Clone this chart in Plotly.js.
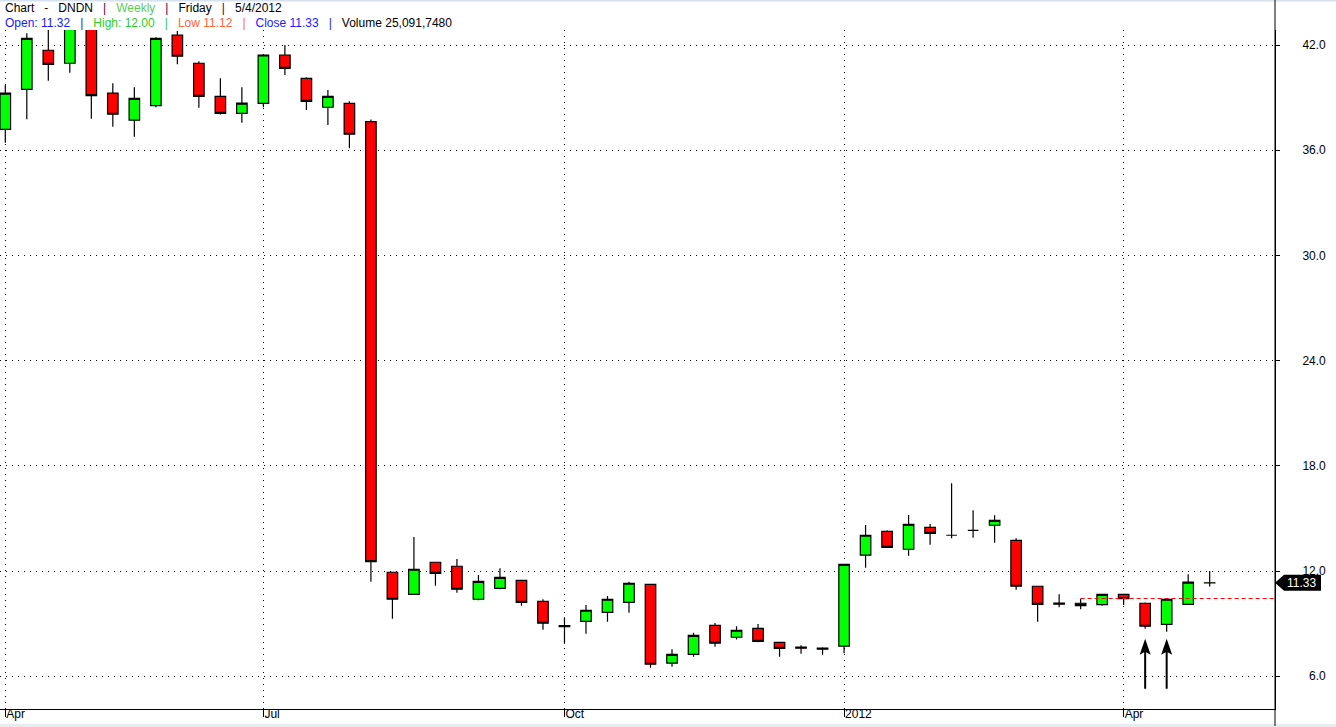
<!DOCTYPE html>
<html>
<head>
<meta charset="utf-8">
<script src="https://cdn.plot.ly/plotly-3.0.1.min.js"></script>
<style>
  html, body { margin: 0; padding: 0; background: #fff; }
  #chart { width: 1336px; height: 727px; }
</style>
</head>
<body>
<div id="chart"></div>
<script>
// weekly bars (Friday dates)
const weeks = [
  '2011-04-08', '2011-04-15', '2011-04-22', '2011-04-29',
  '2011-05-06', '2011-05-13', '2011-05-20', '2011-05-27',
  '2011-06-03', '2011-06-10', '2011-06-17', '2011-06-24',
  '2011-07-01', '2011-07-08', '2011-07-15', '2011-07-22', '2011-07-29',
  '2011-08-05', '2011-08-12', '2011-08-19', '2011-08-26',
  '2011-09-02', '2011-09-09', '2011-09-16', '2011-09-23', '2011-09-30',
  '2011-10-07', '2011-10-14', '2011-10-21', '2011-10-28',
  '2011-11-04', '2011-11-11', '2011-11-18', '2011-11-25',
  '2011-12-02', '2011-12-09', '2011-12-16', '2011-12-23', '2011-12-30',
  '2012-01-06', '2012-01-13', '2012-01-20', '2012-01-27',
  '2012-02-03', '2012-02-10', '2012-02-17', '2012-02-24',
  '2012-03-02', '2012-03-09', '2012-03-16', '2012-03-23', '2012-03-30',
  '2012-04-06', '2012-04-13', '2012-04-20', '2012-04-27',
  '2012-05-04'
]
const open = [
  37.19, 39.47, 41.70, 40.96, 43.80, 39.25, 37.71, 38.54, 42.57, 40.96,
  39.07, 38.10, 38.67, 41.43, 40.10, 38.45, 38.67, 37.63, 11.93, 10.67,
  12.50, 12.27, 10.39, 11.01, 11.47, 10.27, 8.89, 9.13, 9.64, 10.21,
  11.24, 6.74, 7.25, 8.90, 8.22, 8.73, 7.93, 7.66, 7.60, 7.71,
  12.90, 14.26, 13.24, 14.49, 14.04, 14.32, 14.61, 13.75, 11.13, 10.17,
  10.16, 10.08, 10.67, 10.16, 8.96, 10.10, 11.32
]
const high = [
  39.72, 42.67, 43.30, 44.00, 44.20, 39.82, 39.59, 42.44, 42.80, 41.07,
  40.10, 39.59, 41.49, 42.00, 40.16, 39.43, 38.79, 37.75, 11.96, 13.94,
  12.52, 12.68, 11.77, 12.15, 11.49, 10.39, 9.36, 10.06, 10.57, 11.39,
  11.26, 7.53, 8.48, 9.03, 8.85, 8.98, 7.95, 7.76, 7.65, 12.40,
  14.62, 14.32, 15.19, 14.68, 17.00, 15.46, 15.18, 13.87, 11.13, 10.67,
  10.42, 10.67, 10.67, 10.21, 10.39, 11.81, 12.00
]
const low = [
  36.43, 37.76, 39.96, 40.42, 37.80, 37.34, 36.77, 38.45, 40.90, 38.42,
  38.03, 37.57, 38.45, 40.29, 38.29, 37.44, 36.11, 11.39, 9.28, 10.65,
  11.16, 10.76, 10.33, 10.96, 10.02, 8.65, 7.85, 8.42, 9.11, 9.62,
  6.48, 6.54, 7.11, 7.68, 8.10, 7.93, 7.11, 7.28, 7.23, 7.31,
  12.19, 13.35, 12.87, 13.50, 13.87, 13.90, 13.61, 10.93, 9.11, 9.93,
  9.82, 10.02, 10.06, 8.71, 8.54, 10.10, 11.12
]
const close = [
  39.25, 42.38, 40.90, 43.60, 39.11, 38.05, 38.96, 42.38, 41.36, 39.07,
  38.10, 38.69, 41.43, 40.67, 38.79, 39.07, 36.91, 12.53, 10.39, 12.10,
  11.87, 10.96, 11.41, 11.64, 10.21, 9.02, 8.83, 9.76, 10.39, 11.30,
  6.68, 7.25, 8.33, 7.88, 8.62, 7.99, 7.59, 7.60, 7.54, 12.38,
  14.04, 13.35, 14.66, 14.15, 14.04, 14.32, 14.89, 11.13, 10.10, 10.11,
  10.02, 10.67, 10.42, 8.85, 10.39, 11.36, 11.33
]

const monthTicks = ['2011-04-08', '2011-07-01', '2011-10-07', '2012-01-06', '2012-04-06']
const monthLabels = ['Apr', 'Jul', 'Oct', '2012', 'Apr']
const priceTicks = [6, 12, 18, 24, 30, 36, 42]
const priceLabels = ['\u20076.0', '12.0', '18.0', '24.0', '30.0', '36.0', '42.0']

const lastPrice = 11.33
const levelStart = '2012-03-23'
const levelValue = 10.43
const arrowWeeks = ['2012-04-13', '2012-04-20']
const arrowTip = 8.14

const fontFam = 'Liberation Sans, Arial, sans-serif'
const nb = n => '\u00a0'.repeat(n)
const col = (c, t) => `<span style="color:${c}">${t}</span>`
const sep = c => nb(3) + col(c, '|') + nb(3)

const purple = '#4b004b'
const headerLine1 = col('#000', 'Chart' + nb(3) + '-' + nb(3) + 'DNDN') + sep(purple) +
  col('#5ccc5c', 'Weekly') + sep(purple) + col('#000', 'Friday') + sep(purple) + col('#000', '5/4/2012')
const headerLine2 = col('#1a1aff', 'Open: 11.32') + sep('#1a1aff') +
  col('#2ccc2c', 'High: 12.00') + sep('#2ccc2c') +
  col('#ff6633', 'Low 11.12') + sep('#ff6633') +
  col('#1a1aff', 'Close 11.33') + sep('#1a1aff') +
  col('#000', 'Volume 25,091,7480')

// paper y for a pixel row (plot spans rows 30..709)
const py = p => (709 - p) / 679

const candles = {
  type: 'candlestick',
  x: weeks, open: open, high: high, low: low, close: close,
  increasing: { line: { color: '#000', width: 1.2 }, fillcolor: '#00ff00' },
  decreasing: { line: { color: '#000', width: 1.2 }, fillcolor: '#ff0000' },
  whiskerwidth: 0,
  hoverinfo: 'skip'
}

const level = {
  type: 'scatter', mode: 'lines',
  x: [levelStart, '2012-07-01'], y: [levelValue, levelValue],
  line: { color: '#ff0000', width: 1, dash: '4px,3px' },
  hoverinfo: 'skip'
}

const arrowShapes = arrowWeeks.map(w => ({
  type: 'path',
  xref: 'x', xsizemode: 'pixel', xanchor: w,
  yref: 'y', ysizemode: 'pixel', yanchor: arrowTip,
  path: 'M0,0 L5.5,-16 L1,-13.5 L1,-50 L-1,-50 L-1,-13.5 L-5.5,-16 Z',
  fillcolor: '#000', line: { width: 0 }
}))

const layout = {
  width: 1336, height: 727,
  margin: { l: 0, r: 61, t: 30, b: 18, pad: 0 },
  paper_bgcolor: '#fff', plot_bgcolor: '#fff',
  showlegend: false, hovermode: false, dragmode: false,
  font: { family: fontFam, size: 12, color: '#000' },
  xaxis: {
    type: 'date',
    range: ['2011-04-06 06:36', '2012-05-25 06:14'],
    rangeslider: { visible: false },
    tickmode: 'array', tickvals: monthTicks, ticktext: monthLabels,
    ticks: 'outside', ticklen: 7, tickwidth: 1, tickcolor: '#000',
    ticklabelposition: 'outside right', ticklabelstandoff: -6,
    tickfont: { family: fontFam, size: 12, color: '#000' },
    showline: true, linecolor: '#000', linewidth: 1,
    showgrid: true, gridcolor: '#000', gridwidth: 1, griddash: '1px,5px',
    zeroline: false, fixedrange: true
  },
  yaxis: {
    side: 'right',
    range: [4.129, 42.856],
    tickmode: 'array', tickvals: priceTicks, ticktext: priceLabels,
    ticks: 'outside', ticklen: 4, tickwidth: 1, tickcolor: '#000',
    ticklabelstandoff: 20,
    tickfont: { family: fontFam, size: 12, color: '#000' },
    showline: true, linecolor: '#000', linewidth: 1,
    showgrid: true, gridcolor: '#000', gridwidth: 1, griddash: '1px,5px',
    zeroline: false, fixedrange: true
  },
  shapes: [
    // thin top border
    { type: 'rect', xref: 'paper', yref: 'paper', x0: 0, x1: 1.05, y0: py(1.5), y1: py(0),
      fillcolor: '#d6e2ee', line: { width: 0 } },
    // bottom strip
    { type: 'rect', xref: 'paper', yref: 'paper', x0: 0, x1: 1.05, y0: py(727), y1: py(724),
      fillcolor: '#e8ecf0', line: { width: 0 } },
    // right axis running full height
    { type: 'line', xref: 'paper', yref: 'paper', x0: 1, x1: 1, y0: py(726), y1: py(0),
      line: { color: '#000', width: 1 } },
    // last price marker
    { type: 'path', xref: 'paper', xsizemode: 'pixel', xanchor: 1,
      yref: 'y', ysizemode: 'pixel', yanchor: lastPrice,
      path: 'M0,0 L9,8 L46,8 L46,-8 L9,-8 Z',
      fillcolor: '#000', line: { width: 0 } },
    ...arrowShapes
  ],
  annotations: [
    { xref: 'paper', yref: 'paper', x: 0, y: py(7.8), xanchor: 'left', yanchor: 'middle',
      xshift: 2.5, showarrow: false, text: headerLine1, font: { family: fontFam, size: 12 } },
    { xref: 'paper', yref: 'paper', x: 0, y: py(22.8), xanchor: 'left', yanchor: 'middle',
      xshift: 2.5, showarrow: false, text: headerLine2, font: { family: fontFam, size: 12 } },
    { xref: 'paper', yref: 'y', x: 1, y: lastPrice, xanchor: 'left', yanchor: 'middle',
      xshift: 10, showarrow: false, text: lastPrice.toFixed(2),
      font: { family: fontFam, size: 12, color: '#fff' } }
  ]
}

Plotly.newPlot('chart', [candles, level], layout, { displayModeBar: false, staticPlot: true })
</script>
</body>
</html>
